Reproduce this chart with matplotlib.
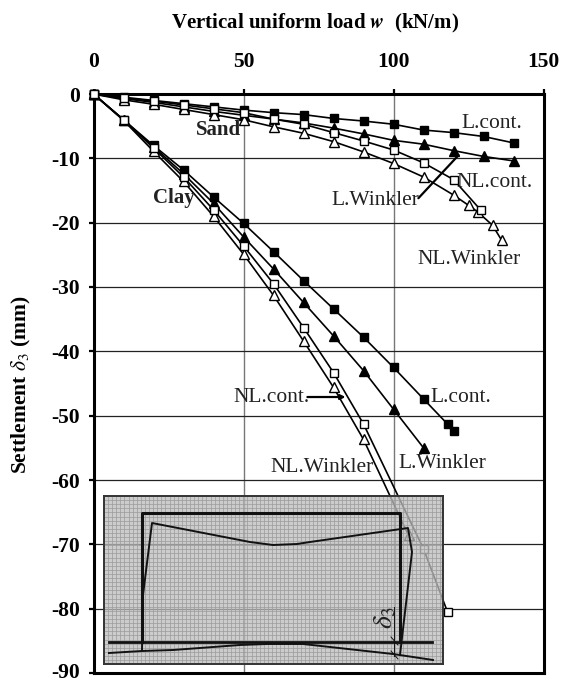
import matplotlib
matplotlib.use('Agg')
import matplotlib.pyplot as plt
from matplotlib.transforms import ScaledTranslation

plt.rcParams['font.family'] = ['Liberation Serif', 'DejaVu Serif']
plt.rcParams['mathtext.fontset'] = 'stix'

W, H = 567, 682

# sand
sand_lc_x = [0, 10, 20, 30, 40, 50, 60, 70, 80, 90, 100, 110, 120, 130, 140]
sand_lc_y = [0, -0.5, -1.0, -1.5, -2.0, -2.5, -2.9, -3.2, -3.8, -4.2, -4.7, -5.6, -6.0, -6.6, -7.6]
sand_lw_x = [0, 10, 20, 30, 40, 50, 60, 70, 80, 90, 100, 110, 120, 130, 140]
sand_lw_y = [0, -0.7, -1.3, -2.0, -2.7, -3.3, -3.9, -4.5, -5.3, -6.2, -7.2, -7.8, -8.8, -9.7, -10.4]
sand_nc_x = [0, 10, 20, 30, 40, 50, 60, 70, 80, 90, 100, 110, 120, 129]
sand_nc_y = [0, -0.6, -1.1, -1.7, -2.3, -2.9, -3.9, -4.7, -6.0, -7.3, -8.7, -10.7, -13.3, -18.0]
sand_nw_x = [0, 10, 20, 30, 40, 50, 60, 70, 80, 90, 100, 110, 120, 125, 128, 133, 136]
sand_nw_y = [0, -0.9, -1.6, -2.4, -3.2, -4.0, -5.1, -6.1, -7.4, -9.0, -10.8, -12.9, -15.7, -17.3, -18.3, -20.4, -22.7]

# clay
clay_lc_x = [0, 10, 20, 30, 40, 50, 60, 70, 80, 90, 100, 110, 118, 120]
clay_lc_y = [0, -4.0, -8.0, -11.8, -16.0, -20.1, -24.5, -29.0, -33.4, -37.8, -42.5, -47.4, -51.3, -52.4]
clay_lw_x = [0, 10, 20, 30, 40, 50, 60, 70, 80, 90, 100, 110]
clay_lw_y = [0, -4.0, -8.2, -12.4, -17.0, -22.2, -27.2, -32.4, -37.6, -43.0, -49.0, -55.0]
clay_nc_x = [0, 10, 20, 30, 40, 50, 60, 70, 80, 90, 110, 118]
clay_nc_y = [0, -4.0, -8.4, -12.9, -18.0, -23.6, -29.5, -36.3, -43.3, -51.3, -70.7, -80.5]
clay_nw_x = [0, 10, 20, 30, 40, 50, 60, 70, 80, 90, 105]
clay_nw_y = [0, -4.1, -8.9, -13.6, -19.0, -24.9, -31.3, -38.4, -45.6, -53.7, -68.6]

x_ticks = [0, 50, 100, 150]
y_ticks = [0, -10, -20, -30, -40, -50, -60, -70, -80, -90]
y_labels = ['0', '-10', '-20', '-30', '-40', '-50', '-60', '-70', '-80', '-90']

# inset sketch, in picture pixels
frame_x = [142, 142, 400, 400]
frame_y = [642, 513, 513, 642]
ground_x = [109, 432]
ground_y = [641.5, 641.5]
deformed_x = [142, 143, 152, 250, 273, 297, 310, 408, 412, 400]
deformed_y = [650, 595, 523, 542, 545, 544, 542, 528, 552, 655]
base_x = [109, 142, 173, 240, 267, 303, 330, 393, 433]
base_y = [653, 651, 650, 645, 644, 644, 647, 654, 660]

fig = plt.figure(figsize=(W / 100, H / 100), dpi=100)
ax = fig.add_axes([93.5 / W, 1 - 673 / H, 450 / W, 579 / H])
ax.set_xlim(0, 150)
ax.set_ylim(-90, 0)
ax.xaxis.tick_top()
ax.set_xticks(x_ticks)
ax.set_yticks(y_ticks)
ax.set_yticklabels(y_labels)
ax.xaxis.grid(True, color='#777777', lw=1)
ax.yaxis.grid(True, color='#222222', lw=0.9)
ax.set_axisbelow(True)
ax.tick_params(axis='both', length=3.8, width=1.6, labelsize=15.5)
ax.tick_params(axis='x', pad=12)
ax.tick_params(axis='y', pad=6)
for lab in ax.get_xticklabels() + ax.get_yticklabels():
    lab.set_fontweight('bold')
# keep the lowest label inside the picture
bottom_label = ax.get_yticklabels()[-1]
bottom_label.set_transform(bottom_label.get_transform() + ScaledTranslation(0, 3 / 100, fig.dpi_scale_trans))
for s in ax.spines.values():
    s.set_linewidth(2.2)

styles = [
    (sand_lc_x, sand_lc_y, 's', 'black', 6.3),
    (sand_lw_x, sand_lw_y, '^', 'black', 7.5),
    (sand_nw_x, sand_nw_y, '^', 'white', 7.5),
    (sand_nc_x, sand_nc_y, 's', 'white', 6.3),
    (clay_lc_x, clay_lc_y, 's', 'black', 6.3),
    (clay_lw_x, clay_lw_y, '^', 'black', 7.5),
    (clay_nw_x, clay_nw_y, '^', 'white', 7.5),
    (clay_nc_x, clay_nc_y, 's', 'white', 6.3),
]
for xs, ys, mk, fc, size in styles:
    ax.plot(xs, ys, color='black', lw=1.2, marker=mk, ms=size, mfc=fc, mec='black', mew=1.0,
            clip_on=False, zorder=3)

fs = 15.5
ax.text(41.7, -5.6, 'Sand', fontsize=15, fontweight='bold', ha='center', va='center', zorder=5, color='#222222')
ax.text(26.7, -16.2, 'Clay', fontsize=15, fontweight='bold', ha='center', va='center', zorder=5, color='#222222')
ax.text(132.7, -4.6, 'L.cont.', fontsize=fs, ha='center', va='center', color='#222222', zorder=5)
ax.text(133.7, -13.8, 'NL.cont.', fontsize=fs, ha='center', va='center', color='#222222', zorder=5)
ax.text(94, -16.6, 'L.Winkler', fontsize=fs, ha='center', va='center', color='#222222', zorder=5)
ax.text(125.3, -25.8, 'NL.Winkler', fontsize=fs, ha='center', va='center', color='#222222', zorder=5)
ax.text(122.3, -47.2, 'L.cont.', fontsize=fs, ha='center', va='center', color='#222222', zorder=5)
ax.text(116.3, -57.5, 'L.Winkler', fontsize=fs, ha='center', va='center', color='#222222', zorder=5)
ax.text(59.3, -47.2, 'NL.cont.', fontsize=fs, ha='center', va='center', color='#222222', zorder=5)
ax.text(76.3, -58.1, 'NL.Winkler', fontsize=fs, ha='center', va='center', color='#222222', zorder=5)

# leader lines
ax.annotate('', xy=(121.7, -9.5), xytext=(108.3, -16.2),
            arrowprops=dict(arrowstyle='-', lw=1.6, color='black', shrinkA=0, shrinkB=0))
ax.annotate('', xy=(84, -47.1), xytext=(71.3, -47.1),
            arrowprops=dict(arrowstyle='-|>', lw=1.6, color='black', mutation_scale=7, shrinkA=0, shrinkB=0))

fig.text(315 / W, 1 - 23 / H, 'Vertical uniform load $\\boldsymbol{w}$  (kN/m)', fontsize=15,
         fontweight='bold', ha='center', va='center')
fig.text(21 / W, 1 - 385 / H, 'Settlement $\\boldsymbol{\\delta_3}$ (mm)', fontsize=15.5,
         fontweight='bold', rotation=90, ha='center', va='center')

# inset covers the chart
ins_left, ins_right, ins_top, ins_bottom = 104, 443, 496, 664
ins = fig.add_axes([ins_left / W, 1 - ins_bottom / H, (ins_right - ins_left) / W, (ins_bottom - ins_top) / H])
ins.set_xlim(ins_left, ins_right)
ins.set_ylim(ins_bottom, ins_top)
ins.patch.set_facecolor('#bcbcbc')
ins.patch.set_alpha(0.75)
ins.set_xticks([])
ins.set_yticks([])
for s in ins.spines.values():
    s.set_linewidth(1.4)
    s.set_color('#333333')
mesh = 4.1
v = ins_left + mesh
while v < ins_right:
    ins.axvline(v, color='#9a9a9a', lw=0.5)
    v += mesh
v = ins_top + mesh
while v < ins_bottom:
    ins.axhline(v, color='#9a9a9a', lw=0.5)
    v += mesh
ins.plot(frame_x, frame_y, color='#111111', lw=2.2)
ins.plot(ground_x, ground_y, color='#111111', lw=2.0)
ins.plot(deformed_x, deformed_y, color='#111111', lw=1.4)
ins.plot(base_x, base_y, color='#111111', lw=1.4)
ins.plot([394, 394], [607, 656], color='#111111', lw=0.7)
ins.plot([391, 398], [637, 645], color='#111111', lw=0.7)
ins.plot([391, 398], [651, 659], color='#111111', lw=0.7)
ins.text(386, 617, '$\\delta_3$', fontsize=20, rotation=90, ha='center', va='center', color='#222222')

fig.savefig('out.png', dpi=100)
